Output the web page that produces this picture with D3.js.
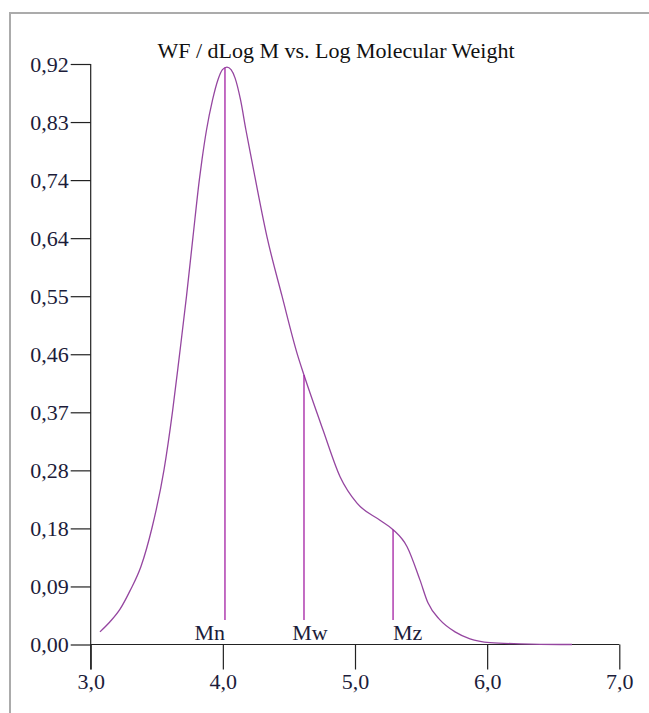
<!DOCTYPE html>
<html>
<head>
<meta charset="utf-8">
<script src="https://cdn.jsdelivr.net/npm/d3@7"></script>
<style>
  html, body { margin: 0; padding: 0; background: #fff; }
  svg { display: block; }
</style>
</head>
<body>
<svg id="chart" width="649" height="713"></svg>
<script>
// Molecular weight distribution: WF/dLogM against log M
const logM = [3.070, 3.146, 3.222, 3.297, 3.381, 3.464, 3.555, 3.619, 3.672, 3.725,
              3.774, 3.823, 3.842, 3.876, 3.922, 3.963, 3.997, 4.031, 4.062, 4.092,
              4.134, 4.175, 4.218, 4.334, 4.448, 4.565, 4.614, 4.758, 4.887, 5.015,
              5.189, 5.288, 5.394, 5.492, 5.552, 5.643, 5.757, 5.870, 6.022, 6.249,
              6.551, 6.642];
const wf   = [0.020, 0.036, 0.056, 0.085, 0.124, 0.185, 0.277, 0.369, 0.459, 0.552,
              0.646, 0.738, 0.768, 0.815, 0.863, 0.895, 0.911, 0.915, 0.911, 0.898,
              0.863, 0.815, 0.768, 0.646, 0.552, 0.459, 0.427, 0.340, 0.266, 0.224,
              0.197, 0.182, 0.155, 0.102, 0.066, 0.039, 0.020, 0.009, 0.003, 0.001,
              0.000, 0.000];

// Average molecular weights (log scale) and the curve height at each
const markerNames = ["Mn", "Mw", "Mz"];
const markerLogM  = [4.016, 4.614, 5.288];
const markerWF    = [0.914, 0.427, 0.182];

const xTicks = [3, 4, 5, 6, 7];
const yTicks = [0, 0.092, 0.184, 0.276, 0.368, 0.46, 0.552, 0.644, 0.736, 0.828, 0.92];

const title = "WF / dLog M vs. Log Molecular Weight";

const svg = d3.select("#chart");
const serif = "'Liberation Serif', 'Times New Roman', serif";
const textColor = "#1c1c3a";

// outer frame (top and left edges visible)
svg.append("path")
  .attr("d", "M10,713 V13 H649")
  .attr("fill", "none")
  .attr("stroke", "#ababab")
  .attr("stroke-width", 2);

const x = d3.scaleLinear().domain([3, 7]).range([90.7, 619.3]);
const y = d3.scaleLinear().domain([0, 0.92]).range([644.5, 64]);

const comma = v => v.toFixed(2).replace(".", ",");
const comma1 = v => v.toFixed(1).replace(".", ",");

// y axis
const yAxis = svg.append("g")
  .attr("transform", `translate(${x(3)},0)`)
  .call(d3.axisLeft(y).tickValues(yTicks).tickFormat(comma).tickSize(20).tickPadding(2));
// x axis
const xAxis = svg.append("g")
  .attr("transform", `translate(0,${y(0)})`)
  .call(d3.axisBottom(x).tickValues(xTicks).tickFormat(comma1).tickSize(25).tickPadding(4));

[yAxis, xAxis].forEach(g => {
  g.select(".domain").attr("stroke", "#222").attr("stroke-width", 1.2);
  g.selectAll(".tick line").attr("stroke", "#222").attr("stroke-width", 1.2);
  g.selectAll("text").attr("font-family", serif).attr("font-size", 22).attr("fill", textColor);
});
// vertical axis line runs down to the end of the bottom ticks
yAxis.select(".domain").attr("d", `M0,${y(0.92)}V${y(0) + 25}`);
xAxis.select(".domain").attr("d", `M${x(3)},0H${x(7)}`);

// distribution curve
const line = d3.line().x((d, i) => x(logM[i])).y(d => y(d)).curve(d3.curveMonotoneX);
svg.append("path")
  .datum(wf)
  .attr("d", line)
  .attr("fill", "none")
  .attr("stroke", "#9546a0")
  .attr("stroke-width", 1.3);

// average molecular weight markers
const markerBase = 0.039;
const anchors = ["end", "middle", "start"];
const mk = svg.append("g");
markerNames.forEach((name, i) => {
  mk.append("line")
    .attr("x1", x(markerLogM[i])).attr("x2", x(markerLogM[i]))
    .attr("y1", y(markerWF[i])).attr("y2", y(markerBase))
    .attr("stroke", "#a31fa3").attr("stroke-width", 1.3);
  mk.append("text")
    .attr("x", x(markerLogM[i]) + (i === 1 ? 6 : 0))
    .attr("y", y(markerBase) + 20)
    .attr("text-anchor", anchors[i])
    .attr("font-family", serif).attr("font-size", 22).attr("fill", textColor)
    .text(name);
});

// title
svg.append("text")
  .attr("x", 336).attr("y", 58)
  .attr("text-anchor", "middle")
  .attr("font-family", serif).attr("font-size", 22).attr("fill", "#111")
  .text(title);
</script>
</body>
</html>
